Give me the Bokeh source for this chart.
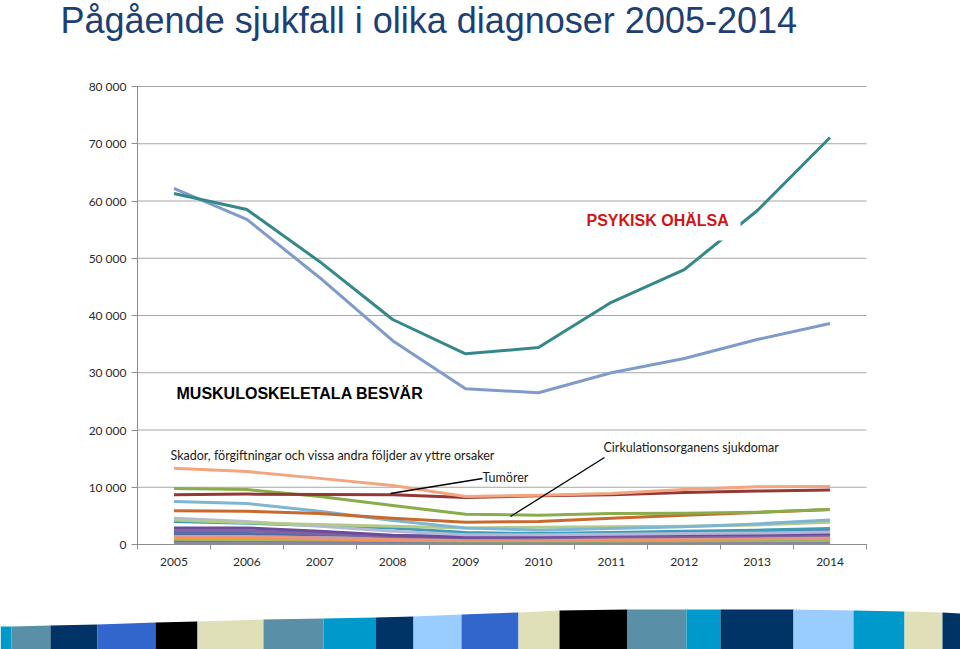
from bokeh.plotting import figure
from bokeh.models import Range1d, FixedTicker, Label, BoxAnnotation
from bokeh.embed import file_html
from bokeh.resources import INLINE

# ---------------- data ----------------
years = [2005, 2006, 2007, 2008, 2009, 2010, 2011, 2012, 2013, 2014]
y_ticks = [0, 10000, 20000, 30000, 40000, 50000, 60000, 70000, 80000]
y_tick_labels = ["0", "10 000", "20 000", "30 000", "40 000", "50 000", "60 000", "70 000", "80 000"]

psykisk_ohalsa = [61300, 58500, 49400, 39300, 33300, 34400, 42300, 48000, 58300, 71100]
muskuloskeletala = [62200, 56800, 46600, 35600, 27200, 26500, 30000, 32500, 35800, 38600]
skador = [13300, 12750, 11550, 10300, 8400, 8600, 8900, 9600, 10100, 10150]
tumorer = [8700, 8800, 8750, 8700, 8200, 8500, 8700, 9100, 9350, 9500]
cirkulation = [9800, 9600, 8400, 6800, 5300, 5100, 5400, 5450, 5650, 6100]
ljusbla = [7500, 7150, 5800, 4200, 2900, 2500, 2800, 3100, 3600, 4300]
orangebrun = [5900, 5800, 5400, 4600, 3900, 4000, 4600, 5100, 5600, 6100]
ljusgron = [4300, 3800, 3500, 3200, 2900, 3000, 3100, 3200, 3400, 3900]
lavendel = [4600, 4000, 3200, 2300, 1700, 1700, 1800, 1900, 2000, 2200]
turkos = [4000, 3700, 3300, 2900, 2100, 1900, 2100, 2300, 2500, 2800]
lila = [2900, 2900, 2300, 1600, 1300, 1400, 1600, 1700, 1800, 1900]
lila2 = [2400, 2400, 1900, 1400, 1200, 1200, 1300, 1400, 1500, 1600]
morkbla = [1900, 1900, 1700, 1500, 1500, 1600, 1800, 2000, 2200, 2400]
laxrosa = [1500, 1400, 1200, 1000, 900, 900, 1000, 1000, 1100, 1100]
orange = [1100, 1050, 950, 800, 700, 700, 800, 900, 1000, 1200]
olivgron = [900, 850, 800, 700, 600, 600, 600, 650, 700, 700]
blagra = [700, 700, 650, 600, 600, 600, 650, 700, 750, 800]
gralila = [350, 350, 300, 300, 300, 300, 300, 300, 350, 350]

small_series = [gralila, blagra, olivgron, orange, laxrosa, morkbla, lila2, lila, turkos,
                lavendel, ljusgron, ljusbla, orangebrun, cirkulation, tumorer, skador]
small_colors = ["#8B86A8", "#5C7FA8", "#9BBB59", "#F79646", "#E6938A", "#4F6FA8", "#8064A2",
                "#6B4C9A", "#3E9BB5", "#B4B8D8", "#B3CB8A", "#7DB6D2", "#C8692E", "#8AAC4A",
                "#953735", "#F2A57E"]

# decorative strip at bottom of slide (page pixels)
strip_edges = [0, 11, 50, 97, 155, 197, 263, 323, 375, 413, 461, 518, 559, 627, 686, 720,
               793, 853, 904, 942, 960]
strip_tops = [626, 626, 625, 624, 622, 621, 619, 618, 617, 616, 614, 612, 610, 609, 609, 609,
              609, 610, 611, 612, 613]
strip_colors = ["#0099CC", "#5A8FA8", "#003366", "#3366CC", "#000000", "#E0E0B8", "#5A8FA8",
                "#0099CC", "#003366", "#99CCFF", "#3366CC", "#E0E0B8", "#000000", "#5A8FA8",
                "#0099CC", "#003366", "#99CCFF", "#0099CC", "#E0E0B8", "#003366"]

# ---------------- geometry helpers (page px -> data) ----------------
W, H = 960, 649
FRAME_L, FRAME_R, FRAME_T, FRAME_B = 137, 866, 86, 544
def dx(px):
    return 2004.5 + (px - FRAME_L) * 10.0 / (FRAME_R - FRAME_L)
def dy(py):
    return (FRAME_B - py) * 80000.0 / (FRAME_B - FRAME_T)

p = figure(width=W, height=H, output_backend="svg", toolbar_location=None,
           x_range=Range1d(dx(0), dx(W)), y_range=Range1d(dy(H), dy(0)),
           min_border=0)
p.outline_line_color = None
p.background_fill_color = "white"
p.border_fill_color = "white"
p.xgrid.visible = False
p.ygrid.visible = False

# horizontal gridlines inside the plot area
p.segment(x0=[years[0] - 0.5] * len(y_ticks), y0=y_ticks,
          x1=[years[-1] + 0.5] * len(y_ticks), y1=y_ticks,
          line_color="#A6A6A6", line_width=1)

lab_font = "Lato"
p.yaxis.fixed_location = years[0] - 0.5
p.yaxis.bounds = (y_ticks[0], y_ticks[-1])
p.yaxis.ticker = FixedTicker(ticks=y_ticks)
p.yaxis.major_label_overrides = {t: l for t, l in zip(y_ticks, y_tick_labels)}
p.yaxis.axis_line_color = "#8C8C8C"
p.yaxis.major_tick_line_color = "#8C8C8C"
p.yaxis.major_tick_out = 6
p.yaxis.major_tick_in = 0
p.yaxis.minor_tick_line_color = None
p.yaxis.major_label_standoff = 5
p.yaxis.major_label_text_font = lab_font
p.yaxis.major_label_text_font_size = "12px"
p.yaxis.major_label_text_color = "#2b2b2b"

p.xaxis.fixed_location = 0
p.xaxis.bounds = (years[0] - 0.5, years[-1] + 0.5)
p.xaxis.ticker = FixedTicker(ticks=years, minor_ticks=[y - 0.5 for y in years] + [years[-1] + 0.5])
p.xaxis.major_label_overrides = {y: str(y) for y in years}
p.xaxis.axis_line_color = "#8C8C8C"
p.xaxis.major_tick_line_color = None
p.xaxis.major_tick_out = 0
p.xaxis.major_tick_in = 0
p.xaxis.minor_tick_line_color = "#8C8C8C"
p.xaxis.minor_tick_out = 5
p.xaxis.minor_tick_in = 0
p.xaxis.major_label_standoff = 8
p.xaxis.major_label_text_font = lab_font
p.xaxis.major_label_text_font_size = "12px"
p.xaxis.major_label_text_color = "#2b2b2b"

for vals, col in zip(small_series, small_colors):
    p.line(years, vals, line_color=col, line_width=3, line_join="round")

p.line(years, muskuloskeletala, line_color="#7F9BC9", line_width=3, line_join="round")
p.line(years, psykisk_ohalsa, line_color="#35888A", line_width=3, line_join="round")

# leader lines for annotations
leader_x0 = [dx(390), dx(510)]
leader_y0 = [dy(493), dy(516)]
leader_x1 = [dx(482), dx(604)]
leader_y1 = [dy(478), dy(457)]
p.segment(leader_x0, leader_y0, leader_x1, leader_y1, line_color="black", line_width=1.3)

# white box behind the PSYKISK OHÄLSA label
p.add_layout(BoxAnnotation(left=dx(574), right=dx(740), top=dy(204), bottom=dy(240),
                           fill_color="white", fill_alpha=1.0, line_color=None))

# texts
p.add_layout(Label(x=dx(60), y=dy(20), text="Pågående sjukfall i olika diagnoser 2005-2014",
                   text_font="Liberation Sans", text_font_size="36px", text_color="#1C3F74",
                   text_baseline="alphabetic"))
p.add_layout(Label(x=dx(586), y=dy(220), text="PSYKISK OHÄLSA", text_font="Liberation Sans",
                   text_font_size="16px", text_font_style="bold", text_color="#D01515",
                   text_baseline="alphabetic"))
p.add_layout(Label(x=dx(176), y=dy(393), text="MUSKULOSKELETALA BESVÄR", text_font="Liberation Sans",
                   text_font_size="16px", text_font_style="bold", text_color="black",
                   text_baseline="alphabetic"))
p.add_layout(Label(x=dx(170), y=dy(455), text="Skador, förgiftningar och vissa andra följder av yttre orsaker",
                   text_font=lab_font, text_font_size="12.5px", text_color="#1a1a1a",
                   text_baseline="alphabetic"))
p.add_layout(Label(x=dx(482), y=dy(477), text="Tumörer",
                   text_font=lab_font, text_font_size="12.5px", text_color="#1a1a1a",
                   text_baseline="alphabetic"))
p.add_layout(Label(x=dx(603), y=dy(447), text="Cirkulationsorganens sjukdomar",
                   text_font=lab_font, text_font_size="12.5px", text_color="#1a1a1a",
                   text_baseline="alphabetic"))

# ---------------- decorative strip ----------------
xs, ys = [], []
for i in range(len(strip_colors)):
    x0, x1 = strip_edges[i], strip_edges[i + 1]
    xs.append([dx(x0), dx(x1), dx(x1), dx(x0)])
    ys.append([dy(strip_tops[i]), dy(strip_tops[i + 1]), dy(H + 10), dy(H + 10)])
p.patches(xs, ys, fill_color=strip_colors, line_color=None)

open("out.html", "w").write(file_html(p, INLINE))
